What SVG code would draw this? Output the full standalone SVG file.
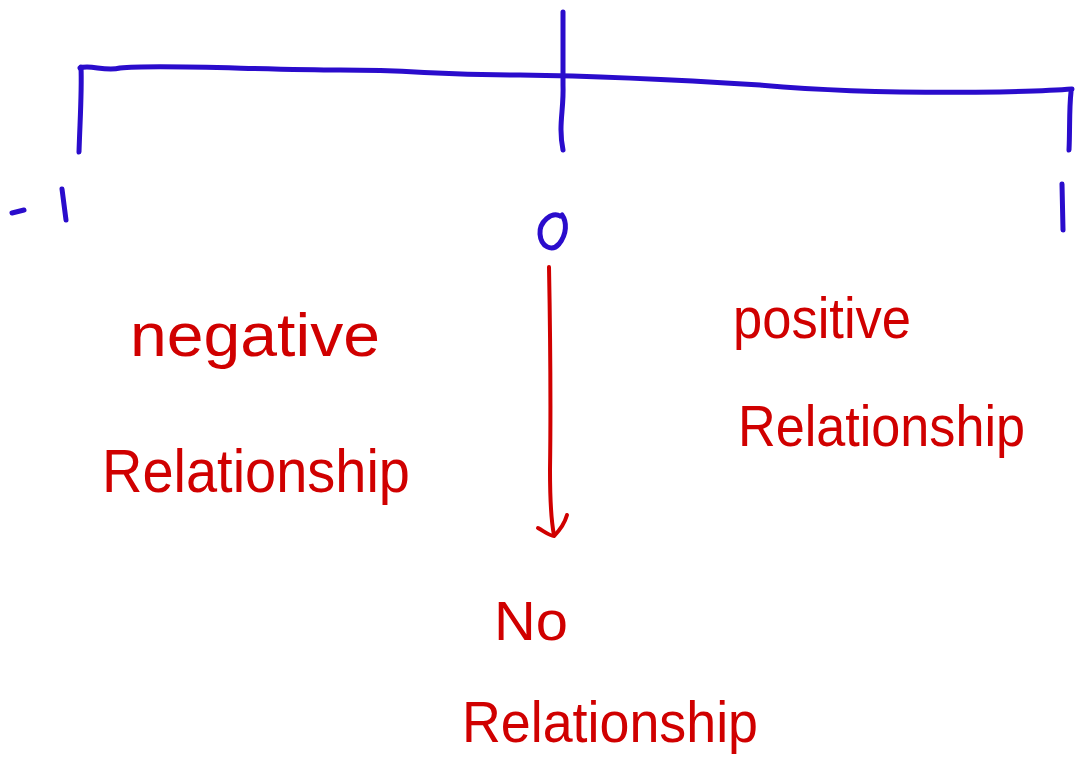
<svg xmlns="http://www.w3.org/2000/svg" width="1075" height="762" viewBox="0 0 1075 762">
  <style>
    .blue { fill: none; stroke: #2a0ccc; stroke-width: 5; stroke-linecap: round; stroke-linejoin: round; }
    .red { fill: none; stroke: #d00000; stroke-width: 4; stroke-linecap: round; stroke-linejoin: round; }
    .lbl { font-family: "Liberation Sans", Arial, sans-serif; fill: #d00000; }
  </style>
  <rect width="1075" height="762" fill="#ffffff"/>
  <g id="scale">
    <path class="blue" d="M80,68 C90,64 105,72 120,68 C160,64 260,70 340,70 C420,70 430,75 520,75 C600,76 680,80 760,85 C840,92 930,93 1000,92 C1040,91 1060,90 1072,89"/>
    <path class="blue" d="M81,67 C82,90 80,120 79,152"/>
    <path class="blue" d="M563,12 C563,50 563,75 563,85 C564,110 558,125 563,150"/>
    <path class="blue" d="M1071,92 C1069,110 1070,130 1069,150"/>
  </g>
  <g id="tick-labels">
    <path class="blue" d="M12,213 L24,210"/>
    <path class="blue" d="M62,189 L66,220"/>
    <path class="blue" d="M560,216 C552,211 539,222 540,234 C541,247 552,252 559,244 C567,234 567,222 562,215"/>
    <path class="blue" d="M1062,184 L1063,230"/>
  </g>
  <g id="connectors">
    <path class="red" d="M549,267 C550,320 551,400 550,470 C550,500 551,520 554,535"/>
    <path class="red" d="M538,528 C545,532 550,536 554,536 C560,530 565,522 567,515"/>
  </g>
  <g id="negative">
    <text class="lbl" x="130" y="356" font-size="62" textLength="250" lengthAdjust="spacingAndGlyphs">negative</text>
    <text class="lbl" x="102" y="492" font-size="62" textLength="308" lengthAdjust="spacingAndGlyphs">Relationship</text>
  </g>
  <g id="positive">
    <text class="lbl" x="733" y="338" font-size="58" textLength="178" lengthAdjust="spacingAndGlyphs">positive</text>
    <text class="lbl" x="738" y="446" font-size="58" textLength="287" lengthAdjust="spacingAndGlyphs">Relationship</text>
  </g>
  <g id="none">
    <text class="lbl" x="494" y="640" font-size="56" textLength="74" lengthAdjust="spacingAndGlyphs">No</text>
    <text class="lbl" x="462" y="742" font-size="58" textLength="296" lengthAdjust="spacingAndGlyphs">Relationship</text>
  </g>
</svg>
